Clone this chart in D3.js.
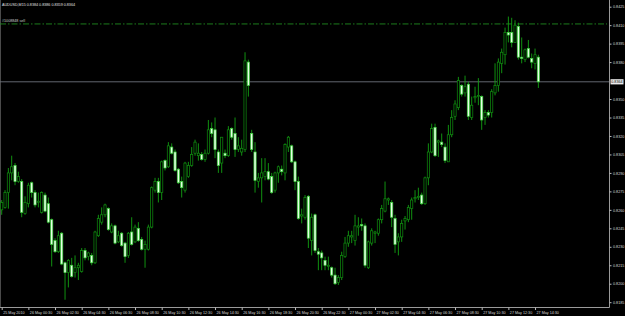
<!DOCTYPE html>
<html>
<head>
<meta charset="utf-8">
<script src="https://cdn.jsdelivr.net/npm/d3@7"></script>
<style>
  html, body { margin: 0; padding: 0; background: #000; }
  svg { display: block; }
  text { font-family: "Liberation Sans", Arial, sans-serif; }
</style>
</head>
<body>
<script>
const symbol = "AUDUSD,M15";
const orderLabel = "#1008848 sell";
const orderPrice = 0.8411;
const bidPrice = 0.8364;

const timeLabels = ["25 May 2010", "26 May 00:30", "26 May 02:30", "26 May 04:30", "26 May 06:30",
  "26 May 08:30", "26 May 10:30", "26 May 12:30", "26 May 14:30", "26 May 16:30", "26 May 18:30",
  "26 May 20:30", "26 May 22:30", "27 May 00:30", "27 May 02:30", "27 May 04:30", "27 May 06:30",
  "27 May 08:30", "27 May 10:30", "27 May 12:30", "27 May 14:30"];

const priceTicks = [0.8425, 0.8410, 0.8395, 0.8380, 0.8350, 0.8335, 0.8320, 0.8305, 0.8290,
  0.8275, 0.8260, 0.8245, 0.8230, 0.8215, 0.8200, 0.8185];

// one entry per M15 bar, from 25 May 22:30
const opens = [
  0.8260,0.8262,0.8274,0.8290,0.8296,0.8283,0.8283,0.8257,0.8265,0.8282,
  0.8274,0.8266,0.8258,0.8272,0.8265,0.8252,0.8235,0.8226,0.8241,0.8217,
  0.8209,0.8215,0.8209,0.8213,0.8210,0.8227,0.8222,0.8223,0.8217,0.8239,
  0.8250,0.8256,0.8261,0.8242,0.8247,0.8234,0.8241,0.8233,0.8223,0.8242,
  0.8234,0.8245,0.8236,0.8228,0.8228,0.8246,0.8276,0.8283,0.8274,0.8300,
  0.8295,0.8311,0.8307,0.8293,0.8283,0.8276,0.8287,0.8296,0.8306,0.8304,
  0.8305,0.8301,0.8306,0.8326,0.8325,0.8307,0.8298,0.8306,0.8304,0.8326,
  0.8322,0.8309,0.8307,0.8309,0.8380,0.8322,0.8307,0.8283,0.8286,0.8287,
  0.8291,0.8287,0.8276,0.8290,0.8293,0.8290,0.8311,0.8312,0.8299,0.8283,
  0.8255,0.8254,0.8271,0.8235,0.8256,0.8226,0.8225,0.8219,0.8214,0.8213,
  0.8207,0.8201,0.8205,0.8222,0.8233,0.8238,0.8235,0.8246,0.8248,0.8247,
  0.8213,0.8233,0.8241,0.8241,0.8252,0.8259,0.8268,0.8266,0.8253,0.8234,
  0.8238,0.8251,0.8252,0.8261,0.8269,0.8270,0.8272,0.8265,0.8286,0.8307,
  0.8327,0.8315,0.8315,0.8311,0.8299,0.8321,0.8336,0.8343,0.8361,0.8355,
  0.8362,0.8335,0.8351,0.8352,0.8352,0.8335,0.8339,0.8339,0.8355,0.8361,
  0.8379,0.8386,0.8404,0.8404,0.8396,0.8409,0.8384,0.8382,0.8391,0.8383,
  0.8379,0.8384];
const highs = [
  0.8268,0.8276,0.8294,0.8304,0.8298,0.8291,0.8285,0.8271,0.8282,0.8283,
  0.8276,0.8274,0.8275,0.8274,0.8270,0.8253,0.8237,0.8243,0.8242,0.8218,
  0.8220,0.8221,0.8223,0.8217,0.8229,0.8229,0.8226,0.8225,0.8243,0.8256,
  0.8262,0.8265,0.8262,0.8249,0.8248,0.8243,0.8242,0.8234,0.8242,0.8254,
  0.8248,0.8250,0.8238,0.8235,0.8248,0.8279,0.8286,0.8286,0.8300,0.8301,
  0.8315,0.8314,0.8309,0.8294,0.8287,0.8299,0.8299,0.8311,0.8317,0.8314,
  0.8307,0.8309,0.8333,0.8331,0.8335,0.8309,0.8319,0.8309,0.8328,0.8327,
  0.8335,0.8319,0.8317,0.8388,0.8382,0.8325,0.8315,0.8290,0.8302,0.8302,
  0.8298,0.8290,0.8291,0.8296,0.8296,0.8314,0.8320,0.8313,0.8300,0.8287,
  0.8261,0.8272,0.8272,0.8257,0.8257,0.8229,0.8227,0.8222,0.8222,0.8214,
  0.8213,0.8207,0.8226,0.8238,0.8243,0.8243,0.8256,0.8254,0.8253,0.8249,
  0.8235,0.8245,0.8243,0.8253,0.8264,0.8283,0.8270,0.8268,0.8256,0.8241,
  0.8252,0.8255,0.8264,0.8270,0.8276,0.8278,0.8274,0.8287,0.8314,0.8330,
  0.8330,0.8317,0.8322,0.8314,0.8329,0.8341,0.8349,0.8368,0.8362,0.8369,
  0.8364,0.8352,0.8360,0.8367,0.8353,0.8341,0.8341,0.8358,0.8379,0.8383,
  0.8391,0.8408,0.8417,0.8416,0.8414,0.8412,0.8400,0.8391,0.8398,0.8387,
  0.8391,0.8386];
const lows = [
  0.8256,0.8261,0.8261,0.8284,0.8280,0.8282,0.8254,0.8256,0.8262,0.8270,
  0.8262,0.8262,0.8257,0.8258,0.8249,0.8214,0.8225,0.8225,0.8215,0.8187,
  0.8197,0.8205,0.8205,0.8203,0.8209,0.8219,0.8219,0.8215,0.8216,0.8238,
  0.8248,0.8254,0.8243,0.8241,0.8232,0.8233,0.8230,0.8217,0.8221,0.8231,
  0.8233,0.8234,0.8227,0.8213,0.8227,0.8245,0.8274,0.8266,0.8268,0.8292,
  0.8294,0.8305,0.8291,0.8281,0.8270,0.8274,0.8286,0.8295,0.8304,0.8300,
  0.8300,0.8299,0.8305,0.8319,0.8302,0.8290,0.8290,0.8302,0.8303,0.8317,
  0.8303,0.8307,0.8304,0.8307,0.8352,0.8307,0.8274,0.8278,0.8266,0.8284,
  0.8284,0.8273,0.8274,0.8282,0.8288,0.8284,0.8307,0.8298,0.8276,0.8252,
  0.8249,0.8252,0.8229,0.8223,0.8225,0.8211,0.8211,0.8211,0.8211,0.8205,
  0.8199,0.8199,0.8203,0.8221,0.8230,0.8233,0.8231,0.8239,0.8243,0.8213,
  0.8212,0.8231,0.8233,0.8239,0.8249,0.8258,0.8264,0.8246,0.8225,0.8223,
  0.8234,0.8244,0.8250,0.8252,0.8266,0.8268,0.8264,0.8264,0.8280,0.8306,
  0.8303,0.8303,0.8311,0.8298,0.8299,0.8319,0.8333,0.8341,0.8352,0.8352,
  0.8333,0.8333,0.8347,0.8345,0.8325,0.8329,0.8335,0.8335,0.8353,0.8356,
  0.8371,0.8378,0.8396,0.8392,0.8396,0.8382,0.8379,0.8380,0.8383,0.8375,
  0.8374,0.8359];
const closes = [
  0.8266,0.8274,0.8290,0.8295,0.8283,0.8287,0.8258,0.8266,0.8280,0.8274,
  0.8264,0.8267,0.8274,0.8259,0.8250,0.8232,0.8226,0.8239,0.8216,0.8209,
  0.8219,0.8206,0.8213,0.8215,0.8227,0.8221,0.8225,0.8217,0.8242,0.8253,
  0.8256,0.8264,0.8244,0.8247,0.8233,0.8239,0.8231,0.8222,0.8241,0.8232,
  0.8246,0.8235,0.8228,0.8232,0.8246,0.8278,0.8283,0.8274,0.8299,0.8294,
  0.8312,0.8306,0.8292,0.8282,0.8278,0.8298,0.8296,0.8305,0.8315,0.8306,
  0.8301,0.8306,0.8325,0.8322,0.8309,0.8296,0.8319,0.8304,0.8325,0.8319,
  0.8309,0.8312,0.8310,0.8381,0.8361,0.8309,0.8284,0.8286,0.8290,0.8291,
  0.8285,0.8274,0.8290,0.8295,0.8291,0.8313,0.8319,0.8299,0.8283,0.8253,
  0.8256,0.8270,0.8237,0.8254,0.8227,0.8224,0.8221,0.8215,0.8215,0.8207,
  0.8200,0.8205,0.8223,0.8233,0.8239,0.8239,0.8247,0.8247,0.8247,0.8215,
  0.8234,0.8243,0.8242,0.8252,0.8261,0.8269,0.8269,0.8254,0.8232,0.8238,
  0.8249,0.8253,0.8262,0.8268,0.8270,0.8271,0.8265,0.8286,0.8307,0.8326,
  0.8304,0.8316,0.8313,0.8300,0.8321,0.8335,0.8346,0.8365,0.8354,0.8360,
  0.8336,0.8345,0.8352,0.8353,0.8333,0.8339,0.8337,0.8356,0.8361,0.8380,
  0.8388,0.8404,0.8402,0.8396,0.8410,0.8384,0.8383,0.8390,0.8384,0.8380,
  0.8386,0.8364];

const width = 625, height = 316;
const plotRight = 609, plotBottom = 307.5;
const barStep = 10 / 3;
const fontSize = 3.7;

const svg = d3.select("body").append("svg")
  .attr("width", width)
  .attr("height", height);

svg.append("rect").attr("width", width).attr("height", height).attr("fill", "#000");

// bar index -> x, price -> y
const x = d3.scaleLinear().domain([0, 1]).range([1.7, 1.7 + barStep]);
const y = d3.scaleLinear().domain([0.8185, 0.8425]).range([302.2, 6.7]);

const bars = opens.map((o, i) => ({ i: i, o: o, h: highs[i], l: lows[i], c: closes[i] }));

// left border and axis frame
svg.append("line").attr("x1", 0.5).attr("x2", 0.5).attr("y1", 0).attr("y2", plotBottom)
  .attr("stroke", "#4a4a4a");
svg.append("line").attr("x1", plotRight + 0.5).attr("x2", plotRight + 0.5).attr("y1", 0).attr("y2", plotBottom)
  .attr("stroke", "#9a9a9a");
svg.append("line").attr("x1", 0).attr("x2", plotRight + 0.5).attr("y1", plotBottom).attr("y2", plotBottom)
  .attr("stroke", "#9a9a9a");

// price axis
svg.append("g")
  .attr("transform", "translate(" + (plotRight + 0.5) + ",0)")
  .call(d3.axisRight(y).tickValues(priceTicks).tickSize(2).tickPadding(1.5).tickFormat(d3.format(".4f")))
  .call(g => g.select(".domain").remove())
  .call(g => g.selectAll(".tick line").attr("stroke", "#bbb"))
  .call(g => g.selectAll(".tick text").attr("fill", "#d8d8d8").style("font-size", fontSize + "px"));

// time axis
svg.append("g")
  .attr("transform", "translate(0," + plotBottom + ")")
  .call(d3.axisBottom(x).tickValues(d3.range(0, 161, 8)).tickSize(2.5).tickPadding(1.2)
    .tickFormat((d, i) => timeLabels[i]))
  .call(g => g.select(".domain").remove())
  .call(g => g.selectAll(".tick line").attr("stroke", "#bbb"))
  .call(g => g.selectAll(".tick text").attr("fill", "#d8d8d8").attr("text-anchor", "start")
    .attr("dx", 1).style("font-size", fontSize + "px"));

// pending order line
svg.append("line")
  .attr("x1", 0).attr("x2", plotRight - 2)
  .attr("y1", y(orderPrice)).attr("y2", y(orderPrice))
  .attr("stroke", "#1f8a1f").attr("stroke-width", 0.9)
  .attr("stroke-dasharray", "6,2,1.5,2");
svg.append("text").attr("x", 2).attr("y", y(orderPrice) - 1.5)
  .attr("fill", "#cfcfcf").style("font-size", fontSize + "px").text(orderLabel);

// bid line
svg.append("line")
  .attr("x1", 0).attr("x2", plotRight)
  .attr("y1", y(bidPrice)).attr("y2", y(bidPrice))
  .attr("stroke", "#6c707a").attr("stroke-width", 0.9);

// candles
const candle = svg.append("g").selectAll("g").data(bars).enter().append("g");

candle.append("line")
  .attr("x1", d => x(d.i)).attr("x2", d => x(d.i))
  .attr("y1", d => y(d.h)).attr("y2", d => y(d.l))
  .attr("stroke", "#12a012").attr("stroke-width", 0.9);

candle.append("rect")
  .attr("x", d => x(d.i) - 1.1)
  .attr("width", 2.2)
  .attr("y", d => y(Math.max(d.o, d.c)))
  .attr("height", d => Math.max(0.6, Math.abs(y(d.o) - y(d.c))))
  .attr("fill", d => d.c < d.o ? "#e4ffe4" : "#000")
  .attr("stroke", d => d.c < d.o ? "#3cd23c" : "#109010")
  .attr("stroke-width", 0.7);

// bid label box on the price axis
svg.append("rect")
  .attr("x", plotRight + 1.5).attr("y", y(bidPrice) - 2.6)
  .attr("width", 13).attr("height", 5.2).attr("fill", "#ececec");
svg.append("text")
  .attr("x", plotRight + 2.3).attr("y", y(bidPrice) + 1.4)
  .attr("fill", "#000").style("font-size", fontSize + "px")
  .text(d3.format(".4f")(bidPrice));

// header
svg.append("text").attr("x", 2).attr("y", 5.5)
  .attr("fill", "#e0e0e0").style("font-size", fontSize + "px")
  .text(symbol + "  " + [opens[161], highs[161], lows[161], closes[161]].map(d3.format(".4f")).join(" "));
</script>
</body>
</html>
